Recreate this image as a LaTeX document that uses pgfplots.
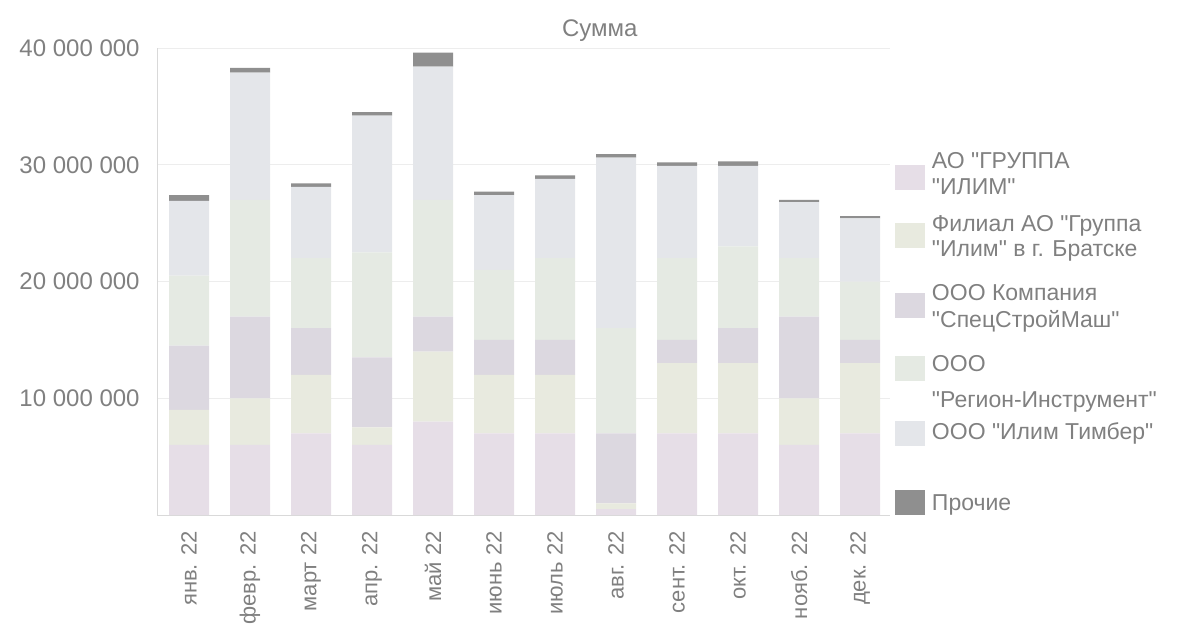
\documentclass[border=0pt]{standalone}
\usepackage{pgfplots}
\pgfplotsset{compat=1.18}
\usepackage{pgfplotstable}
\usepackage{fontspec}
\setmainfont{Liberation Sans}[Ligatures=TeXOff]
\definecolor{txt}{HTML}{808080}
\definecolor{cA}{HTML}{E6DEE7}
\definecolor{cB}{HTML}{E8EADF}
\definecolor{cC}{HTML}{DCD8E0}
\definecolor{cD}{HTML}{E5EAE3}
\definecolor{cE}{HTML}{E4E6EA}
\definecolor{cF}{HTML}{8F8F8F}

\pgfplotstableread{
x  s1  s2  s3  s4   s5   s6
0  6.0 3.0 5.5 6.0  6.4  0.5
1  6.0 4.0 7.0 10.0 10.9 0.4
2  7.0 5.0 4.0 6.0  6.1  0.3
3  6.0 1.5 6.0 9.0  11.7 0.3
4  8.0 6.0 3.0 10.0 11.4 1.2
5  7.0 5.0 3.0 6.0  6.4  0.3
6  7.0 5.0 3.0 7.0  6.8  0.3
7  0.5 0.5 6.0 9.0  14.6 0.3
8  7.0 6.0 2.0 7.0  7.9  0.3
9  7.0 6.0 3.0 7.0  6.9  0.4
10 6.0 4.0 7.0 5.0  4.8  0.2
11 7.0 6.0 2.0 5.0  5.4  0.2
}\data

\pgfplotsset{
  boxA/.style={legend image code/.code={\path (0pt,0pt) rectangle (15pt,0pt); \fill[##1,overlay] (0pt,-10.75pt) rectangle (15pt,1.75pt);}},
  boxB/.style={legend image code/.code={\path (0pt,0pt) rectangle (15pt,0pt); \fill[##1,overlay] (0pt,-8.25pt) rectangle (15pt,4.25pt);}},
  boxC/.style={legend image code/.code={\path (0pt,0pt) rectangle (15pt,0pt); \fill[##1,overlay] (0pt,-9pt) rectangle (15pt,3.5pt);}},
  boxD/.style={legend image code/.code={\path (0pt,0pt) rectangle (15pt,0pt); \fill[##1,overlay] (0pt,-4.75pt) rectangle (15pt,7.75pt);}},
  boxE/.style={legend image code/.code={\path (0pt,0pt) rectangle (15pt,0pt); \fill[##1,overlay] (0pt,-3.25pt) rectangle (15pt,9.25pt);}},
  boxF/.style={legend image code/.code={\path (0pt,0pt) rectangle (15pt,0pt); \fill[##1,overlay] (0pt,-2.25pt) rectangle (15pt,10.25pt);}},
}

\begin{document}
\begin{tikzpicture}
\useasboundingbox (0,0) rectangle (589.5pt,314pt);
\begin{axis}[
  at={(78.5pt,56.5pt)}, anchor=south west,
  scale only axis, width=366.5pt, height=233.5pt,
  ybar stacked, bar width=20pt,
  xmin=-0.525, xmax=11.49, ymin=0, ymax=40,
  axis x line*=bottom, axis y line*=left,
  axis line style={draw=black!15},
  major tick length=0pt,
  ymajorgrids, grid style={draw=black!7},
  xtick={0,...,11},
  xticklabels={янв. 22, февр. 22, март 22, апр. 22, май 22, июнь 22, июль 22, авг. 22, сент. 22, окт. 22, нояб. 22, дек. 22},
  xticklabel style={rotate=90, anchor=east, inner sep=0pt, font=\fontsize{11}{13}\selectfont, text=txt},
  xticklabel shift=8pt,
  ytick={10,20,30,40},
  yticklabels={10 000 000, 20 000 000, 30 000 000, 40 000 000},
  yticklabel style={anchor=east, inner sep=0pt, font=\fontsize{12}{14}\selectfont, text=txt},
  yticklabel shift=8.5pt,
  title={Сумма},
  every axis title/.style={at={(0.604,1)}, anchor=south, yshift=3pt, inner sep=0pt, font=\fontsize{12}{14}\selectfont, text=txt},
  legend style={at={(1.0068,0.7816)}, anchor=north west, draw=none, fill=none,
    inner sep=0pt, outer sep=0pt, row sep=0pt, font=\fontsize{11.5}{13}\selectfont, text=txt,
    nodes={inner sep=0pt, text height=9pt},
    cells={anchor=base west},
    /tikz/column 1/.style={column sep=3.5pt}},
]
\addplot[fill=cA, draw=none, boxA] table[x=x, y=s1] {\data};
\addlegendentry[text depth=4pt]{АО "ГРУППА}
\addlegendimage{empty legend}
\addlegendentry[text depth=9.5pt]{"ИЛИМ"}
\addplot[fill=cB, draw=none, boxB] table[x=x, y=s2] {\data};
\addlegendentry[text depth=3.5pt]{Филиал АО "Группа}
\addlegendimage{empty legend}
\addlegendentry[text depth=13pt]{"Илим" в г. Братске}
\addplot[fill=cC, draw=none, boxC] table[x=x, y=s3] {\data};
\addlegendentry[text depth=4.5pt]{ООО Компания}
\addlegendimage{empty legend}
\addlegendentry[text depth=13pt]{"СпецСтройМаш"}
\addplot[fill=cD, draw=none, boxD] table[x=x, y=s4] {\data};
\addlegendentry[text depth=9pt]{ООО}
\addlegendimage{empty legend}
\addlegendentry[text depth=7pt]{"Регион-Инструмент"}
\addplot[fill=cE, draw=none, boxE] table[x=x, y=s5] {\data};
\addlegendentry[text depth=26.5pt]{ООО "Илим Тимбер"}
\addplot[fill=cF, draw=none, boxF] table[x=x, y=s6] {\data};
\addlegendentry[text depth=3pt]{Прочие}
\end{axis}
\end{tikzpicture}
\end{document}
